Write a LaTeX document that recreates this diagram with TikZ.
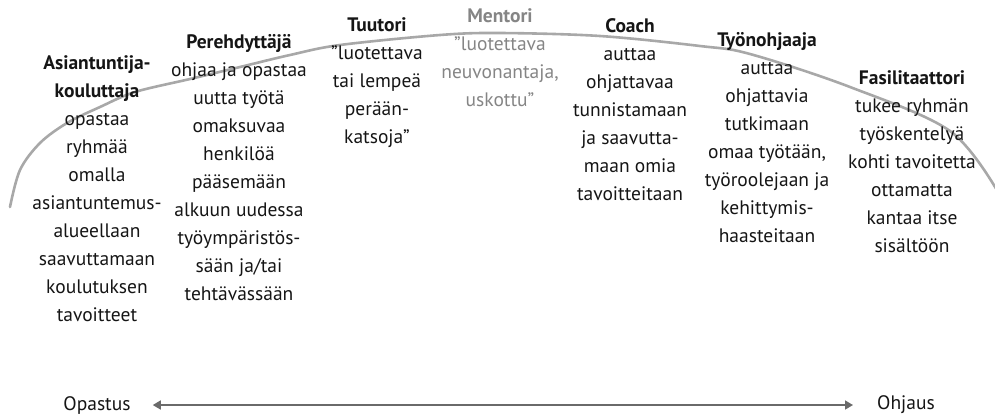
\documentclass[tikz,border=0pt]{standalone}
\usepackage{fontspec}
\setmainfont{PT Sans}
\usetikzlibrary{arrows.meta}
\definecolor{txt}{HTML}{151515}
\definecolor{arcgray}{HTML}{A8A8A8}
\definecolor{mgray}{HTML}{858585}
\definecolor{arrgray}{HTML}{6A6A6A}
\tikzset{
  role/.style={align=center, inner sep=0pt, text=txt, font=\fontsize{19.5}{28}\selectfont},
  endlabel/.style={inner sep=0pt, text=txt, font=\fontsize{19.5}{22}\selectfont},
}
\begin{document}
\begin{tikzpicture}[x=1pt,y=-1pt]
\useasboundingbox (0,0) rectangle (995,416);
% arc
\draw[arcgray, line width=2.6pt, line cap=round] plot[smooth, tension=0.55] coordinates {
 (10,207) (20,170) (40,143) (67,123) (100,107) (135,92) (190,79) (240,67) (290,55) (340,45) (440,35) (500,33) (600,36) (700,46) (750,54) (850,87) (950,131) (998,192)};
% roles
\node[role] (asi) at (97,189) {\textbf{Asiantuntija-}\\\textbf{kouluttaja}\\opastaa\\ryhmää\\omalla\\asiantuntemus-\\alueellaan\\saavuttamaan\\koulutuksen\\tavoitteet};
\node[role] (per) at (239,168) {\textbf{Perehdyttäjä}\\ohjaa ja opastaa\\uutta työtä\\omaksuvaa\\henkilöä\\pääsemään\\alkuun uudessa\\työympäristös-\\sään ja/tai\\tehtävässään};
\node[role] (tuu) at (377,83) {\textbf{Tuutori}\\"luotettava\\tai lempeä\\perään-\\katsoja"};
\node[role, text=mgray] (men) at (500,58) {\textbf{Mentori}\\"luotettava\\neuvonantaja,\\uskottu"};
\node[role] (coa) at (630,110) {\textbf{Coach}\\auttaa\\ohjattavaa\\tunnistamaan\\ja saavutta-\\maan omia\\tavoitteitaan};
\node[role] (tyo) at (767,138) {\textbf{Työnohjaaja}\\auttaa\\ohjattavia\\tutkimaan\\omaa työtään,\\työroolejaan ja\\kehittymis-\\haasteitaan};
\node[role] (fas) at (912,162) {\textbf{Fasilitaattori}\\tukee ryhmän\\työskentelyä\\kohti tavoitetta\\ottamatta\\kantaa itse\\sisältöön};
% bottom axis
\node[endlabel] (op) at (97,405) {Opastus};
\node[endlabel] (oh) at (906,405) {Ohjaus};
\draw[arrgray, line width=1.6pt, {Triangle[length=8pt,width=9pt]}-{Triangle[length=8pt,width=9pt]}, shorten <=22pt, shorten >=24pt] (op.east) -- (oh.west);
\end{tikzpicture}
\end{document}
